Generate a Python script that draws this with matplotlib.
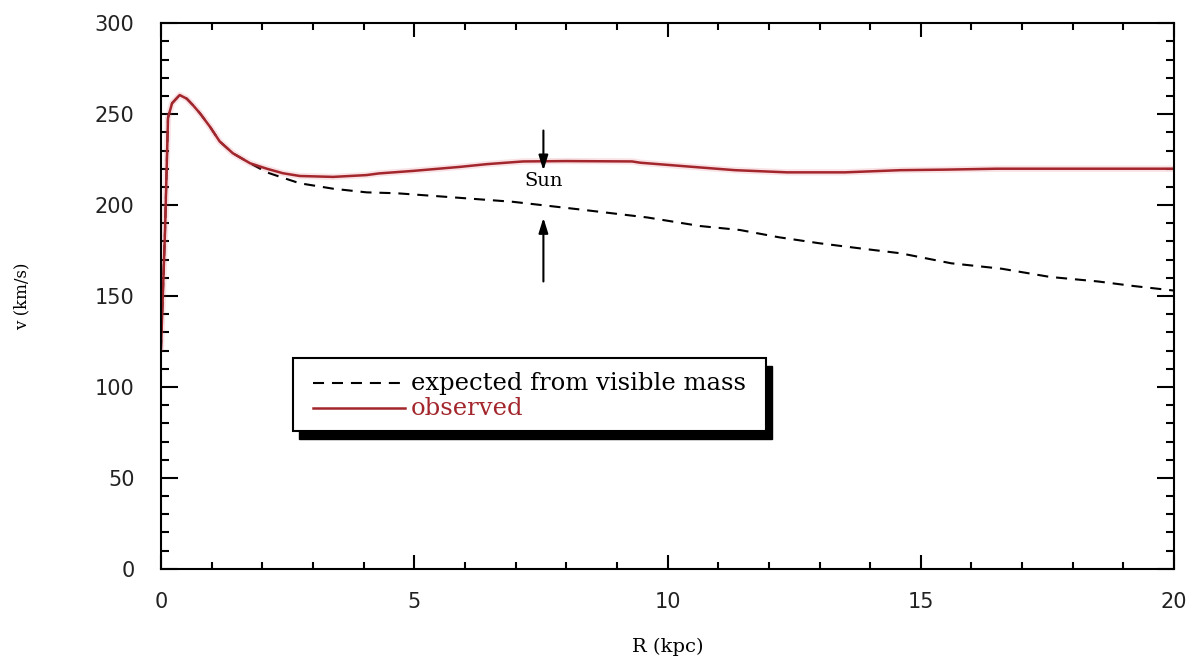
import matplotlib
matplotlib.use("Agg")
import matplotlib.pyplot as plt
from matplotlib.patches import Rectangle
from matplotlib.ticker import MultipleLocator

# rotation curve (R in kpc, v in km/s)
r_expected = [0, 0.08, 0.14, 0.22, 0.37, 0.51, 0.63, 0.77, 0.97, 1.16, 1.42, 1.76,
              2.09, 2.41, 2.74, 3.4, 4.06, 4.66, 5.6, 6.95, 8.27, 9.6, 10.64, 11.43,
              12.2, 13.0, 13.8, 14.6, 15.6, 16.6, 17.55, 18.5, 19.2, 20]
v_expected = [120, 185, 248, 256, 260.5, 258.5, 255, 250.5, 243, 235, 228.5, 223,
              218, 215, 212, 209, 207, 206.5, 204.6, 201.8, 197.6, 193.2, 188.5, 186.3,
              182.3, 179, 176.2, 173.5, 168, 165, 160.5, 158, 155.5, 153]

r_observed = [0, 0.08, 0.14, 0.22, 0.37, 0.51, 0.63, 0.77, 0.97, 1.16, 1.42, 1.76,
              2.09, 2.41, 2.74, 3.4, 4.06, 4.3, 4.98, 5.9, 6.43, 7.15, 8.0, 9.3, 9.46,
              10.05, 10.64, 11.33, 12.36, 13.5, 14.6, 15.5, 16.5, 17.5, 18.5, 19.5, 20]
v_observed = [120, 185, 248, 256, 260.5, 258.5, 255, 250.5, 243, 235, 228.5, 223,
              220, 217.5, 216, 215.5, 216.5, 217.4, 218.8, 221, 222.5, 224, 224.2, 224,
              223.3, 222, 220.7, 219.2, 218, 218, 219.2, 219.5, 220, 220, 220, 220, 220]

sun_r = 7.55
red = "#a3262c"

fig = plt.figure(figsize=(11.92, 6.63), dpi=100)
ax = fig.add_axes([0.135, 0.142, 0.850, 0.823])

# expected (dashed) first, observed on top
ax.plot(r_expected, v_expected, color="black", lw=1.5, dashes=(5.3, 3.8))
ax.plot(r_observed, v_observed, color="#e06070", lw=4.5, alpha=0.18,
        solid_capstyle="butt")
ax.plot(r_observed, v_observed, color=red, lw=1.8)

ax.set_xlim(0, 20)
ax.set_ylim(0, 300)
ax.xaxis.set_major_locator(MultipleLocator(5))
ax.xaxis.set_minor_locator(MultipleLocator(1))
ax.yaxis.set_major_locator(MultipleLocator(50))
ax.yaxis.set_minor_locator(MultipleLocator(10))

ax.tick_params(axis="both", which="both", direction="in", top=True, right=True,
               width=1.5, color="black")
ax.tick_params(axis="x", which="major", length=10, pad=17, labelsize=15)
ax.tick_params(axis="x", which="minor", length=5)
ax.tick_params(axis="y", which="major", length=12, pad=19, labelsize=15)
ax.tick_params(axis="y", which="minor", length=6)
for lab in ax.get_xticklabels() + ax.get_yticklabels():
    lab.set_color("#222222")
for sp in ax.spines.values():
    sp.set_linewidth(1.5)

ax.set_xlabel("R (kpc)", family="DejaVu Serif", fontsize=14, labelpad=18)
ax.set_ylabel("v (km/s)", family="DejaVu Serif", fontsize=12, labelpad=46)

# Sun marker
ax.text(sun_r, 213, "Sun", family="DejaVu Serif", fontsize=14,
        ha="center", va="center")
arrow = dict(arrowstyle="-|>,head_length=0.9,head_width=0.28", color="black", lw=1.5,
             shrinkA=0, shrinkB=0)
ax.annotate("", xy=(sun_r, 219), xytext=(sun_r, 241), arrowprops=arrow)
ax.annotate("", xy=(sun_r, 193), xytext=(sun_r, 158), arrowprops=arrow)

# hand-drawn legend box with black drop shadow
bx0, by0, bw, bh = 0.130, 0.252, 0.467, 0.134
ax.add_patch(Rectangle((bx0 + 0.006, by0 - 0.014), bw, bh, transform=ax.transAxes,
                       facecolor="black", edgecolor="black", zorder=5))
ax.add_patch(Rectangle((bx0, by0), bw, bh, transform=ax.transAxes,
                       facecolor="white", edgecolor="black", lw=1.5, zorder=6))
ax.plot([0.150, 0.241], [0.340, 0.340], transform=ax.transAxes, color="black",
        lw=1.5, dashes=(5.3, 3.8), zorder=7)
ax.plot([0.150, 0.241], [0.294, 0.294], transform=ax.transAxes, color=red,
        lw=1.8, zorder=7)
ax.text(0.247, 0.340, "expected from visible mass", transform=ax.transAxes,
        family="DejaVu Serif", fontsize=17.5, va="center", zorder=7)
ax.text(0.247, 0.294, "observed", transform=ax.transAxes, color=red,
        family="DejaVu Serif", fontsize=17.5, va="center", zorder=7)

fig.savefig("out.png", dpi=100, facecolor="white")
